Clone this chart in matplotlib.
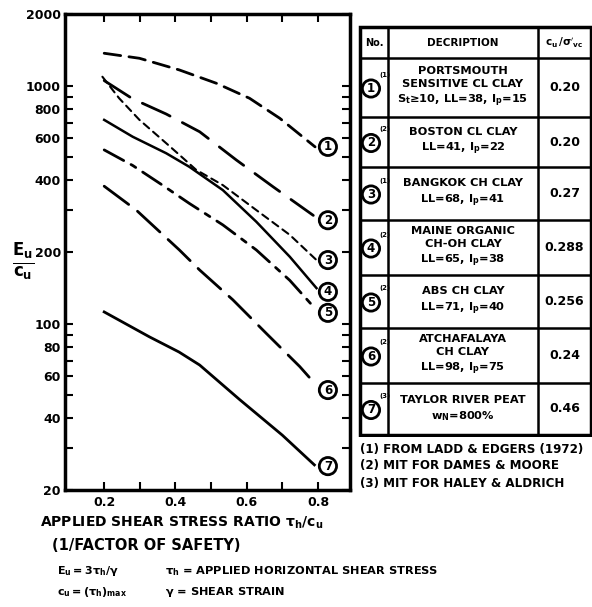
import numpy as np
import matplotlib.pyplot as plt
from matplotlib.patches import Rectangle

# --- data (x = tau_h/c_u, y = E_u/c_u) ---
x1 = [0.2, 0.299, 0.411, 0.515, 0.608, 0.693, 0.792]
y1 = [1368, 1303, 1164, 1023, 885, 729, 553]
x2 = [0.2, 0.28, 0.374, 0.468, 0.571, 0.674, 0.787]
y2 = [1050, 880, 760, 640, 487, 376, 285]
x3 = [0.195, 0.242, 0.299, 0.374, 0.411, 0.458, 0.533, 0.627, 0.721, 0.796]
y3 = [1090, 885, 718, 573, 512, 443, 382, 300, 236, 185]
x4 = [0.2, 0.28, 0.374, 0.439, 0.533, 0.627, 0.721, 0.796]
y4 = [718, 610, 520, 456, 364, 268, 191, 141]
x5 = [0.2, 0.28, 0.36, 0.439, 0.533, 0.627, 0.721, 0.787]
y5 = [537, 462, 385, 320, 260, 204, 152, 118]
x6 = [0.2, 0.29, 0.411, 0.468, 0.561, 0.655, 0.749, 0.796]
y6 = [378, 300, 204, 168, 126, 91, 66, 55]
x7 = [0.2, 0.327, 0.41, 0.468, 0.58, 0.7, 0.79]
y7 = [112, 88, 76, 67, 48, 34, 25.5]

curve_ids = ['1', '2', '3', '4', '5', '6', '7']
label_y = [553, 272, 185, 136, 111, 52.6, 25.2]

ytick_vals = [20, 40, 60, 80, 100, 200, 400, 600, 800, 1000, 2000]
ytick_minor = [30, 50, 70, 90, 300, 500, 700, 900]
xtick_vals = [0.2, 0.4, 0.6, 0.8]
xtick_labels = ['0.2', '0.4', '0.6', '0.8']

header = ['No.', 'DECRIPTION', r"$\mathbf{c_u\,/\sigma'_{vc}}$"]
descriptions = [
    'PORTSMOUTH\nSENSITIVE CL CLAY\n' + r'$\mathbf{S_t}$' + '≥10, LL=38, ' + r'$\mathbf{I_p}$' + '=15',
    'BOSTON CL CLAY\nLL=41, ' + r'$\mathbf{I_p}$' + '=22',
    'BANGKOK CH CLAY\nLL=68, ' + r'$\mathbf{I_p}$' + '=41',
    'MAINE ORGANIC\nCH-OH CLAY\nLL=65, ' + r'$\mathbf{I_p}$' + '=38',
    'ABS CH CLAY\nLL=71, ' + r'$\mathbf{I_p}$' + '=40',
    'ATCHAFALAYA\nCH CLAY\nLL=98, ' + r'$\mathbf{I_p}$' + '=75',
    'TAYLOR RIVER PEAT\n' + r'$\mathbf{w_N}$' + '=800%',
]
ratios = ['0.20', '0.20', '0.27', '0.288', '0.256', '0.24', '0.46']
sources = ['(1)', '(2)', '(1)', '(2)', '(2)', '(2)', '(3)']
footnotes = ['(1) FROM LADD & EDGERS (1972)', '(2) MIT FOR DAMES & MOORE',
             '(3) MIT FOR HALEY & ALDRICH']

W, H = 592, 607
fig = plt.figure(figsize=(W / 100, H / 100), dpi=100)
plt.rcParams['font.family'] = 'DejaVu Sans'
plt.rcParams['font.weight'] = 'bold'
plt.rcParams['mathtext.default'] = 'bf'

def px(x0, y0, x1_, y1_):
    return [x0 / W, 1 - y1_ / H, (x1_ - x0) / W, (y1_ - y0) / H]

ax = fig.add_axes(px(65, 14, 350, 490))
styles = [(0, (6, 3)), (0, (11, 5)), (0, (3.5, 2.5)), '-', (0, (8, 3, 2, 3)), (0, (11, 4)), '-']
widths = [2.0, 2.0, 1.5, 1.8, 2.0, 2.0, 2.0]
xs = [x1, x2, x3, x4, x5, x6, x7]
ys = [y1, y2, y3, y4, y5, y6, y7]
for xx, yy, ls, lw in zip(xs, ys, styles, widths):
    ax.plot(xx, yy, color='black', linestyle=ls, linewidth=lw, dash_capstyle='round')

for cid, ly in zip(curve_ids, label_y):
    ax.text(0.828, ly, cid, ha='center', va='center', fontsize=8.5, fontweight='bold',
            bbox=dict(boxstyle='circle,pad=0.18', fc='white', ec='black', lw=2))

ax.set_yscale('log')
ax.set_xlim(0.09, 0.89)
ax.set_ylim(20, 2000)
ax.set_yticks(ytick_vals)
ax.set_yticklabels([str(v) for v in ytick_vals], fontsize=9, fontweight='bold')
ax.set_yticks(ytick_minor, minor=True)
ax.set_xticks(xtick_vals)
ax.set_xticklabels(xtick_labels, fontsize=9, fontweight='bold')
ax.set_xticks([0.3, 0.5, 0.7], minor=True)
ax.tick_params(axis='both', which='both', direction='in', top=True, right=True,
               width=1.5, length=6)
ax.tick_params(axis='x', which='major', pad=4)
ax.tick_params(axis='y', which='major', pad=3)
for sp in ax.spines.values():
    sp.set_linewidth(2.5)

fig.text(23 / W, 1 - 262 / H, r'$\mathbf{\frac{E_u}{c_u}}$', fontsize=17,
         ha='center', va='center')

# --- table on the right ---
tax = fig.add_axes(px(358, 25, 592, 437))
tax.set_xlim(358, 592)
tax.set_ylim(437, 25)
tax.axis('off')
rows = [27, 58, 117, 167, 220, 275, 328, 383, 435]
cols = [360, 388, 538, 591]
tax.add_patch(Rectangle((cols[0], rows[0]), cols[-1] - cols[0], rows[-1] - rows[0],
                        fill=False, ec='black', lw=2.5))
for r in rows[1:-1]:
    tax.plot([cols[0], cols[-1]], [r, r], color='black', lw=1.8)
for c in cols[1:-1]:
    tax.plot([c, c], [rows[0], rows[-1]], color='black', lw=1.8)

tfs = 8.2
tax.text((cols[0] + cols[1]) / 2, (rows[0] + rows[1]) / 2, header[0], ha='center',
         va='center', fontsize=7, fontweight='bold')
tax.text((cols[1] + cols[2]) / 2, (rows[0] + rows[1]) / 2, header[1], ha='center',
         va='center', fontsize=7.5, fontweight='bold')
tax.text((cols[2] + cols[3]) / 2, (rows[0] + rows[1]) / 2, header[2], ha='center',
         va='center', fontsize=7.5)
for i in range(7):
    yc = (rows[i + 1] + rows[i + 2]) / 2
    tax.text((cols[1] + cols[2]) / 2, yc, descriptions[i], ha='center', va='center',
             fontsize=tfs, fontweight='bold', linespacing=1.35)
    tax.text((cols[2] + cols[3]) / 2, yc, ratios[i], ha='center', va='center',
             fontsize=9, fontweight='bold')
    tax.text(371, yc + 1, curve_ids[i], ha='center', va='center', fontsize=8.5,
             fontweight='bold',
             bbox=dict(boxstyle='circle,pad=0.18', fc='white', ec='black', lw=2))
    tax.text(379, yc - 13, sources[i], ha='left', va='center', fontsize=5,
             fontweight='bold')

for k, fn in enumerate(footnotes):
    fig.text(360 / W, 1 - (449 + 17 * k) / H, fn, fontsize=8.6, fontweight='bold',
             ha='left', va='center')

# --- text under the chart ---
fig.text(40 / W, 1 - 523 / H, r'APPLIED SHEAR STRESS RATIO $\mathbf{\tau_h/c_u}$',
         fontsize=10, fontweight='bold', ha='left', va='center')
fig.text(52 / W, 1 - 546 / H, '(1/FACTOR OF SAFETY)', fontsize=10.5,
         fontweight='bold', ha='left', va='center')
fig.text(57 / W, 1 - 571 / H, r'$\mathbf{E_u=3\tau_h/\gamma}$', fontsize=8,
         ha='left', va='center')
fig.text(165 / W, 1 - 571 / H, r'$\mathbf{\tau_h}$ = APPLIED HORIZONTAL SHEAR STRESS',
         fontsize=8.2, fontweight='bold', ha='left', va='center')
fig.text(57 / W, 1 - 592 / H, r'$\mathbf{c_u=(\tau_h)_{max}}$', fontsize=8,
         ha='left', va='center')
fig.text(165 / W, 1 - 592 / H, r'$\mathbf{\gamma}$ = SHEAR STRAIN', fontsize=8.2,
         fontweight='bold', ha='left', va='center')

fig.savefig('out.png', dpi=100)
